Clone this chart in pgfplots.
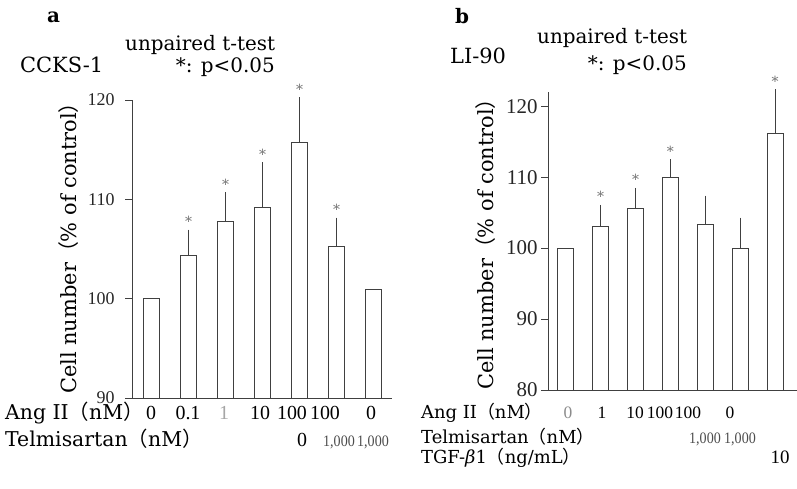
\documentclass[border=0pt]{standalone}
\usepackage{fontspec}
\setmainfont{Liberation Serif}
\newfontfamily\dv{DejaVu Serif}
\newfontfamily\cjk{Noto Sans CJK JP}
\usepackage{pgfplots}
\pgfplotsset{compat=1.18}

\newcommand{\lp}{{\cjk （}}
\newcommand{\rp}{{\cjk ）}}
\newcommand{\thou}{\scalebox{0.88}[1]{\fontsize{16}{16}\selectfont 1,000}}

\pgfplotsset{
  panel/.style={
    scale only axis, anchor=south west, axis lines*=left, clip=false,
    xtick=\empty, tick align=outside, major tick length=7bp,
    axis line style={black!75, line width=0.9bp},
    tick style={black!75, line width=0.9bp},
    yticklabel style={/pgf/number format/assume math mode=true, text=black!85},
  },
  plainbars/.style={ybar, bar shift=0pt, bar width=16bp, fill=white, draw=black!75, line width=0.9bp},
  bars/.style={plainbars,
    error bars/.cd, y dir=plus, y explicit,
    error bar style={black!75, line width=0.9bp},
    error mark options={black!75, line width=0.9bp, mark size=3.5bp}},
  stars/.style={draw=none, mark=none, nodes near coords={*},
    nodes near coords style={anchor=south, yshift=3bp, text=black!55,
      font=\dv\fontsize{14}{14}\selectfont}},
}

\begin{document}
\begin{tikzpicture}
\useasboundingbox (0bp,0bp) rectangle (797bp,-489bp);

% ---- panel a: CCKS-1 ----
\begin{axis}[panel, at={(132bp,-398bp)}, width=260bp, height=298bp,
    xmin=0.47, xmax=7.5, ymin=0, ymax=30,
    y filter/.expression={y-90},
    ytick={0,10,20,30}, yticklabels={90,100,110,120},
    yticklabel style={font=\fontsize{18}{18}\selectfont, xshift=-7bp}]
  \addplot[plainbars] coordinates {(1,100.0) (7,100.9)};
  \addplot[bars] coordinates {
    (2,104.35) +- (0,2.25)
    (3,107.8) +- (0,2.55)
    (4,109.2) +- (0,4.2)
    (5,115.75) +- (0,4.15)
    (6,105.3) +- (0,2.5)
  };
  \addplot[stars] coordinates {(2,106.6) (3,110.35) (4,113.4) (5,119.9) (6,107.8)};
\end{axis}

% ---- panel b: LI-90 ----
\begin{axis}[panel, at={(548bp,-390bp)}, width=249bp, height=298bp,
    xmin=0.49, xmax=7.63, ymin=0, ymax=42,
    y filter/.expression={y-80},
    ytick={0,10,20,30,40}, yticklabels={80,90,100,110,120},
    yticklabel style={font=\fontsize{21}{21}\selectfont}]
  \addplot[plainbars] coordinates {(1,100.0)};
  \addplot[bars] coordinates {
    (2,103.1) +- (0,2.5)
    (3,105.6) +- (0,2.4)
    (4,110.0) +- (0,2.05)
    (5,103.4) +- (0,3.5)
    (6,100.0) +- (0,3.8)
    (7,116.15) +- (0,5.75)
  };
  \addplot[stars] coordinates {(2,105.6) (3,108.0) (4,112.05) (7,121.9)};
\end{axis}

% ---- titles and annotations ----
\begin{scope}[every node/.style={inner sep=0pt}]
\node[anchor=base west, font=\dv\bfseries\fontsize{20}{20}\selectfont] at (47bp,-22bp) {a};
\node[anchor=base west, font=\dv\bfseries\fontsize{20}{20}\selectfont] at (455bp,-23bp) {b};
\node[anchor=base west, font=\dv\fontsize{20}{20}\selectfont] at (125bp,-50bp) {unpaired t-test};
\node[anchor=base east, font=\dv\fontsize{20}{20}\selectfont] at (275bp,-72bp) {*: p<0.05};
\node[anchor=base west, font=\dv\fontsize{21}{21}\selectfont] at (20bp,-72bp) {CCKS-1};
\node[anchor=base west, font=\dv\fontsize{20}{20}\selectfont] at (537bp,-43bp) {unpaired t-test};
\node[anchor=base east, font=\dv\fontsize{20}{20}\selectfont] at (687bp,-70bp) {*: p<0.05};
\node[anchor=base west, font=\dv\fontsize{21}{21}\selectfont] at (450bp,-63bp) {LI-90};

% y labels
\node[rotate=90, anchor=base, font=\dv\fontsize{21}{21}\selectfont] at (76bp,-243bp)
  {Cell number\lp\%\ of control\rp};
\node[rotate=90, anchor=base, font=\dv\fontsize{21}{21}\selectfont] at (493bp,-239bp)
  {Cell number\lp\%\ of control\rp};

% row labels panel a
\node[anchor=base west, font=\dv\fontsize{20.5}{20}\selectfont] at (5bp,-419bp) {Ang II\lp nM\rp};
\node[anchor=base west, font=\dv\fontsize{20.5}{20}\selectfont] at (5bp,-446bp) {Telmisartan\lp nM\rp};
\begin{scope}[every node/.append style={anchor=base, font=\fontsize{20}{20}\selectfont}]
\node at (151bp,-419bp) {0};
\node at (188bp,-419bp) {0.1};
\node[text=black!35] at (224bp,-419bp) {1};
\node at (260bp,-419bp) {10};
\node at (292bp,-419bp) {100};
\node at (325bp,-419bp) {100};
\node at (371bp,-419bp) {0};
\node at (302bp,-446bp) {0};
\end{scope}
\node[anchor=base, text=black!70] at (339bp,-446bp) {\thou};
\node[anchor=base, text=black!70] at (373bp,-446bp) {\thou};

% row labels panel b
\node[anchor=base west, font=\dv\fontsize{18}{20}\selectfont] at (421bp,-418bp) {Ang II\lp nM\rp};
\node[anchor=base west, font=\dv\fontsize{18}{20}\selectfont] at (421bp,-443bp) {Telmisartan\lp nM\rp};
\node[anchor=base west, font=\dv\fontsize{18}{20}\selectfont] at (421bp,-463bp) {TGF-\textit{β}1\lp ng/mL\rp};
\begin{scope}[every node/.append style={anchor=base, font=\fontsize{17.5}{20}\selectfont}]
\node[text=black!45] at (568bp,-418bp) {0};
\node at (602bp,-418bp) {1};
\node at (635bp,-418bp) {10};
\node at (660bp,-418bp) {100};
\node at (688bp,-418bp) {100};
\node at (730bp,-418bp) {0};
\node[font=\fontsize{19}{20}\selectfont] at (780bp,-463bp) {10};
\end{scope}
\node[anchor=base, text=black!70] at (705bp,-443bp) {\thou};
\node[anchor=base, text=black!70] at (740bp,-443bp) {\thou};
\end{scope}
\end{tikzpicture}
\end{document}
